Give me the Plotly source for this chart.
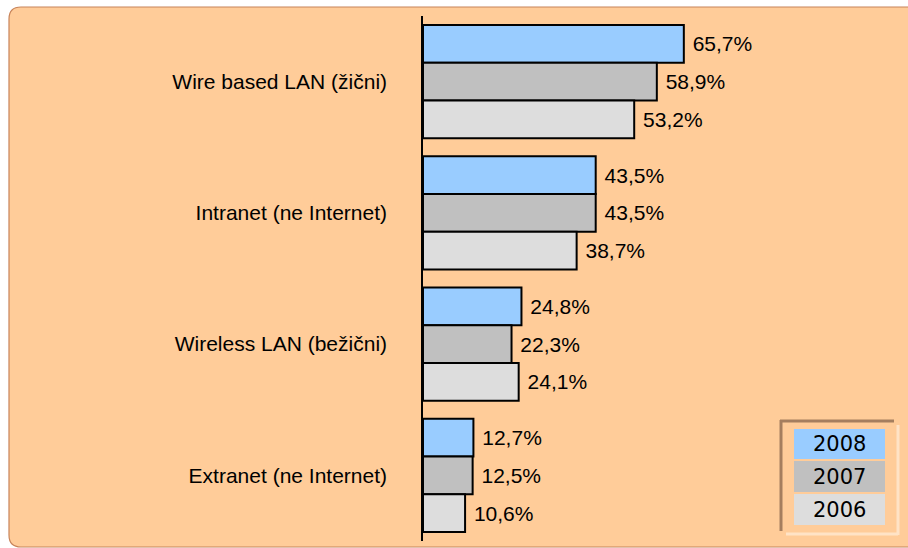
import plotly.graph_objects as go

# Network types and share of companies per year
categories = ["Wire based LAN (žični)", "Intranet (ne Internet)",
              "Wireless LAN (bežični)", "Extranet (ne Internet)"]
years = ["2008", "2007", "2006"]
values_2008 = [65.7, 43.5, 24.8, 12.7]
values_2007 = [58.9, 43.5, 22.3, 12.5]
values_2006 = [53.2, 38.7, 24.1, 10.6]
series_values = [values_2008, values_2007, values_2006]
series_colors = ["#99CCFF", "#C0C0C0", "#DDDDDD"]

W, H = 908, 548
L, R, T, B = 423, 88, 16, 7
PW, PH = W - L - R, H - T - B


def px(x):
    return (x - L) / PW


def py(y):
    return (H - B - y) / PH


def fmt(v):
    return " " + f"{v:.1f}".replace(".", ",") + "%"


fig = go.Figure()
for name, vals, col in zip(years, series_values, series_colors):
    fig.add_trace(go.Bar(
        y=categories, x=vals, name=name, orientation="h",
        marker=dict(color=col, line=dict(color="#000000", width=2)),
        text=[fmt(v) for v in vals], textposition="outside",
        constraintext="none", cliponaxis=False,
        textfont=dict(family="Liberation Sans, Arial", size=21, color="#000000"),
        showlegend=False,
    ))

shapes = []
# Rounded peach panel behind the chart
x0, x1, y0, y1 = 9, 930, 7, 547
r = 12
path = (f"M {px(x0 + r)},{py(y0)} L {px(x1)},{py(y0)} L {px(x1)},{py(y1)} "
        f"L {px(x0 + r)},{py(y1)} Q {px(x0)},{py(y1)} {px(x0)},{py(y1 - r)} "
        f"L {px(x0)},{py(y0 + r)} Q {px(x0)},{py(y0)} {px(x0 + r)},{py(y0)} Z")
shapes.append(dict(type="path", xref="paper", yref="paper", path=path,
                   fillcolor="#FFCC99", line=dict(color="#C8845A", width=1.2),
                   layer="below"))

# Legend frame (sunken look)
dark, light = "#A57E5E", "#FFE3C6"
shapes += [
    dict(type="line", xref="paper", yref="paper", x0=px(898), x1=px(898),
         y0=py(425), y1=py(535), line=dict(color=light, width=3)),
    dict(type="line", xref="paper", yref="paper", x0=px(786), x1=px(898),
         y0=py(534), y1=py(534), line=dict(color=light, width=3)),
    dict(type="line", xref="paper", yref="paper", x0=px(781), x1=px(781),
         y0=py(420), y1=py(531), line=dict(color=dark, width=3)),
    dict(type="line", xref="paper", yref="paper", x0=px(780), x1=px(894),
         y0=py(421), y1=py(421), line=dict(color=dark, width=3)),
]
annotations = []
rows = [(429, 459), (461, 492), (494, 525)]
for name, col, (ry0, ry1) in zip(years, series_colors, rows):
    shapes.append(dict(type="rect", xref="paper", yref="paper",
                       x0=px(794), x1=px(885), y0=py(ry1), y1=py(ry0),
                       fillcolor=col, line=dict(width=0)))
    annotations.append(dict(xref="paper", yref="paper", x=px(839.5),
                            y=py((ry0 + ry1) / 2), text=name, showarrow=False,
                            xanchor="center", yanchor="middle",
                            font=dict(family="DejaVu Sans", size=21,
                                      color="#000000")))

fig.update_layout(
    width=W, height=H,
    margin=dict(l=L, r=R, t=T, b=B, pad=0),
    paper_bgcolor="#FFFFFF", plot_bgcolor="rgba(0,0,0,0)",
    barmode="group", bargap=0.137, bargroupgap=0,
    shapes=shapes, annotations=annotations,
    xaxis=dict(range=[0, 100], visible=False, fixedrange=True),
    yaxis=dict(type="category", range=[3.5, -0.5], showline=True,
               linecolor="#000000", linewidth=1.5, ticks="",
               showgrid=False, zeroline=False, ticklabelstandoff=30,
               tickfont=dict(family="Liberation Sans, Arial", size=21,
                             color="#000000")),
    font=dict(family="Liberation Sans, Arial"),
)

fig.write_html("out.html")
